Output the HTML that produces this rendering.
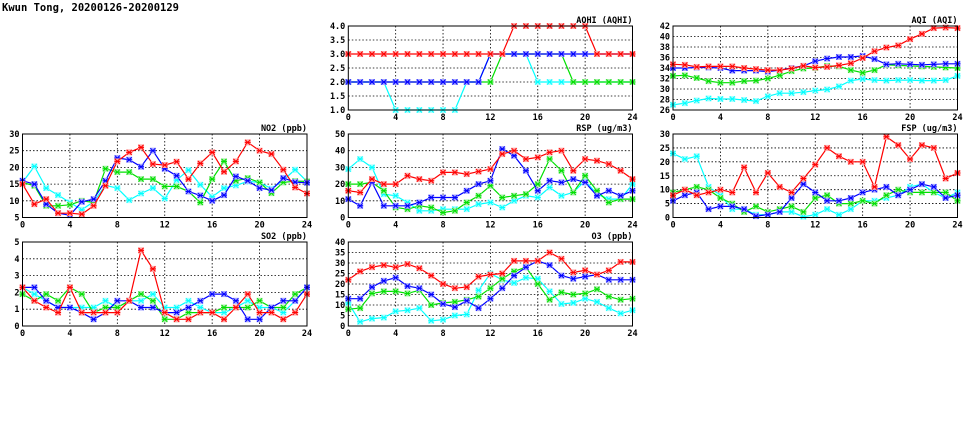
<!DOCTYPE html>
<html><head><meta charset="utf-8"><style>
body{margin:0;background:#fff;width:975px;height:447px;overflow:hidden}
svg{display:block}
text{font-family:"DejaVu Sans Mono","Liberation Mono",monospace;font-weight:bold;fill:#000}
</style></head><body>
<svg id="s" width="975" height="447" xmlns="http://www.w3.org/2000/svg">
<text x="2" y="11" font-size="10.5">Kwun Tong, 20200126-20200129</text>
</svg>
<script>
const S=document.getElementById('s');let h='';
const cols=[[22.5,307],[348.3,632.5],[673,957.5]];
const rows=[[26,110],[134,217.5],[242,326]];
const P=[
{t:'AQHI (AQHI)',c:1,r:0,min:1,max:4,st:0.5,f:1,d:[
[2,2,2,2,1,1,1,1,1,1,2,2,3,3,3,3,2,2,2,2,2,2,2,2,2],
[2,2,2,2,2,2,2,2,2,2,2,2,2,3,3,3,3,3,3,2,2,2,2,2,2],
[2,2,2,2,2,2,2,2,2,2,2,2,3,3,3,3,3,3,3,3,3,3,3,3,3],
[3,3,3,3,3,3,3,3,3,3,3,3,3,3,4,4,4,4,4,4,4,3,3,3,3]]},
{t:'AQI (AQI)',c:2,r:0,min:26,max:42,st:2,f:0,d:[
[27,27.3,27.8,28.2,28.1,28.1,27.9,27.7,28.6,29.2,29.2,29.4,29.7,29.9,30.5,31.6,31.9,31.7,31.6,31.7,31.7,31.6,31.6,31.7,32.5],
[32.5,32.6,32.1,31.5,31.2,31.2,31.5,31.6,32,32.6,33.4,33.9,34,34.4,34.3,33.6,33.1,33.6,34.6,34.5,34.4,34.3,34.2,34.1,34],
[34,34,34.1,34.1,34,33.5,33.5,33.5,33.3,33.6,34,34.4,35.3,35.8,36.1,36.1,36.3,35.7,34.7,34.8,34.7,34.6,34.7,34.8,34.8],
[34.7,34.6,34.2,34.3,34.3,34.3,34,33.8,33.6,33.6,33.9,34.4,34.1,34.2,34.5,34.9,35.9,37.2,37.9,38.3,39.5,40.5,41.6,41.7,41.6]]},
{t:'NO2 (ppb)',c:0,r:1,min:5,max:30,st:5,f:0,d:[
[15.5,20.3,13.8,11.7,9.5,7.3,9.7,14.6,13.8,10.2,12.2,13.8,10.7,16.2,19.2,14.8,11.2,13.8,14.6,15.8,15.5,13.6,16.2,19.3,15.8],
[15.5,14.5,8.5,8.5,8.8,10,9.5,19.6,18.6,18.6,16.5,16.5,14.3,14.3,12.8,9.5,16.5,21.8,16,16.8,15.5,12.3,15.5,15.9,15.8],
[16,15,9,6.3,5.7,9.7,10.5,16,22.8,22.3,20.2,25,19.6,17.5,12.8,11.6,10,11.7,17.3,16,13.8,13.2,16.8,15.6,15.4],
[15,9,10.5,6.3,6.3,6,8.5,14.5,21.8,24.5,26,21,20.7,21.7,16.5,21.2,24.5,18.7,21.8,27.5,25,24,19.3,14,12.2]]},
{t:'RSP (ug/m3)',c:1,r:1,min:0,max:50,st:10,f:0,d:[
[29,35,30,14,13,9,4,4,5,5,5,8,9,6,10,13,12,18,13,15,22,14,11,11,20],
[20,20,21,16,6,5,7,6,3,4,9,13,19,12,13,14,20,35,28,15,25,16,9,11,11],
[11,7,21,7,7,7,9,12,12,12,16,20,22,41,37,28,16,22,21,23,21,13,16,13,16],
[16,15,23,20,20,25,23,22,27,27,26,27.5,29,38,40,35,36,39,40,28,35,34,32,28,23]]},
{t:'FSP (ug/m3)',c:2,r:1,min:0,max:30,st:5,f:0,d:[
[23,21,22,11,8,3,3,1,1,2,2,0.3,1,3,1,3,6,6,7,8,11,12,9,7,9],
[9,10,11,10,7,5,2,4,2,3,4,2,7,8,5,5,6,5,8,10,9,9,9,9,6],
[6,8,9,3,4,4,3,0.5,1,2,7,12,9,6,6,7,9,10,11,8,10,12,11,7,8],
[8,10,8,9,10,9,18,9,16,11,9,14,19,25,22,20,20,11,29,26,21,26,25,14,16]]},
{t:'SO2 (ppb)',c:0,r:2,min:0,max:5,st:1,f:0,d:[
[2.3,1.9,1.5,1.1,1.1,1.1,1.1,1.5,1.1,1.5,1.5,1.9,1.1,1.1,1.5,1.1,0.8,0.8,1.1,1.5,1.1,1.1,0.8,1.5,2.3],
[1.9,1.5,1.9,1.5,2.3,1.9,0.8,1.1,1.1,1.5,1.9,1.5,0.4,0.4,0.8,0.8,0.8,1.1,1.1,1.1,1.5,1.1,1.1,1.9,2.3],
[2.3,2.3,1.5,1.1,1.1,0.8,0.4,0.8,1.5,1.5,1.1,1.1,0.8,0.8,1.1,1.5,1.9,1.9,1.5,0.4,0.4,1.1,1.5,1.5,2.3],
[2.3,1.5,1.1,0.8,2.3,0.8,0.8,0.8,0.8,1.5,4.5,3.4,0.8,0.4,0.4,0.8,0.8,0.4,1.1,1.9,0.8,0.8,0.4,0.8,1.9]]},
{t:'O3 (ppb)',c:1,r:2,min:0,max:40,st:5,f:0,d:[
[11,2,3.5,4,7,7.5,8.5,2.5,3,5,5.5,17,25,22,20.5,23,22.5,16.5,10.5,11,13,11.5,8.5,6,7.5],
[8,8.5,15.5,16.5,16.5,15.5,17,10,11,11.5,12.5,14,18,22.5,26,28,20,12.5,16,15,15.5,17.5,14,12.5,13],
[13,13,18.5,21.5,23,19,18,15,10.5,9,12,8.5,13,18,24,28,31,29,24,22.5,23.5,24.5,22,22,22],
[22,26,28,29,28,29.5,27.5,24,20,18,18.5,23.5,24.5,25,31,31,31,35,32,25.5,26.5,24.5,26.5,30.5,30.5]]}
];
const C=['#00ffff','#00e000','#0000ff','#ff0000'],L=['#aaffff','#aaeeaa','#aaaaff','#ffaaaa'];
for(const p of P){
 const [x0,x1]=cols[p.c],[y0,y1]=rows[p.r];
 const X=i=>x0+(x1-x0)*i/24,Y=v=>y1-(y1-y0)*(v-p.min)/(p.max-p.min);
 for(let v=p.min;v<=p.max+1e-9;v+=p.st){const y=Y(v);
  if(v>p.min+1e-9&&v<p.max-1e-9)h+=`<line x1="${x0}" x2="${x1}" y1="${y}" y2="${y}" stroke="#000" stroke-width="0.8" stroke-dasharray="1.5,2"/>`;
  h+=`<text x="${x0-3}" y="${y+3}" font-size="8.5" text-anchor="end">${p.f?v.toFixed(1):Math.round(v)}</text>`;}
 for(let i=0;i<=24;i+=4){const x=X(i);
  if(i>0&&i<24)h+=`<line x1="${x}" x2="${x}" y1="${y0}" y2="${y1}" stroke="#000" stroke-width="0.8" stroke-dasharray="1.5,2"/>`;
  h+=`<text x="${x}" y="${y1+10}" font-size="8.5" text-anchor="middle">${i}</text>`;}
 h+=`<text x="${x1}" y="${y0-3}" font-size="8.5" text-anchor="end">${p.t}</text>`;
 p.d.forEach((a,k)=>{
  h+=`<polyline fill="none" stroke="${C[k]}" stroke-width="1.2" points="${a.map((v,i)=>X(i).toFixed(1)+','+Y(v).toFixed(1)).join(' ')}"/>`;
  a.forEach((v,i)=>{const x=X(i),y=Y(v);
   h+=`<rect x="${x-3}" y="${y-3}" width="6" height="6" fill="${L[k]}"/><path d="M${x-2.5} ${y-2.5}L${x+2.5} ${y+2.5}M${x-2.5} ${y+2.5}L${x+2.5} ${y-2.5}M${x-3} ${y}H${x+3}" stroke="${C[k]}" stroke-width="1"/>`;});
 });
 h+=`<rect x="${x0}" y="${y0}" width="${x1-x0}" height="${y1-y0}" fill="none" stroke="#000" stroke-width="1"/>`;
}
S.insertAdjacentHTML('beforeend',h);
</script>
</body></html>
